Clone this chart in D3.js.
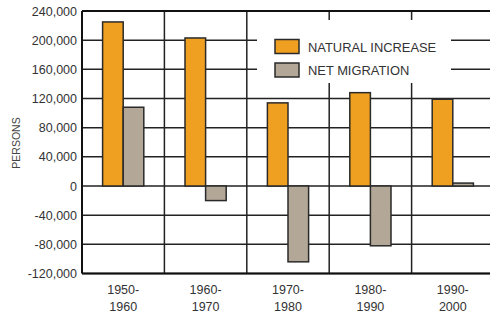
<!DOCTYPE html>
<html lang="en">
<head>
<meta charset="UTF-8">
<title>Natural increase and net migration</title>
<script src="https://d3js.org/d3.v7.min.js"></script>
<style>
    body { margin: 0; background: #fff; }
    text { font-family: "Liberation Sans", Arial, sans-serif; }
</style>
</head>
<body>
<div id="chart"></div>
<script>
    const decades = ["1950-1960", "1960-1970", "1970-1980", "1980-1990", "1990-2000"];
    const naturalIncrease = [225000, 203000, 114000, 128000, 119000];
    const netMigration = [108000, -20000, -104000, -82000, 4000];
    const yTicks = [-120000, -80000, -40000, 0, 40000, 80000, 120000, 160000, 200000, 240000];

    const width = 490, height = 314;
    const plotLeft = 82, plotRight = 494, plotTop = 11, plotBottom = 273.5;

    const svg = d3.select("#chart").append("svg")
        .attr("width", width)
        .attr("height", height);

    const x = d3.scaleBand()
        .domain(decades)
        .range([plotLeft, plotRight])
        .padding(0);

    const y = d3.scaleLinear()
        .domain([-120000, 240000])
        .range([plotBottom, plotTop]);

    // grid
    svg.append("g")
        .selectAll("line")
        .data(yTicks)
        .enter().append("line")
        .attr("x1", plotLeft).attr("x2", plotRight)
        .attr("y1", d => y(d)).attr("y2", d => y(d))
        .attr("stroke", "#222")
        .attr("stroke-width", 1.5);

    svg.append("g")
        .selectAll("line")
        .data(decades.slice(1))
        .enter().append("line")
        .attr("x1", d => x(d)).attr("x2", d => x(d))
        .attr("y1", plotTop).attr("y2", plotBottom)
        .attr("stroke", "#222")
        .attr("stroke-width", 1.5);

    // legend box covers the grid
    const legend = svg.append("g");
    legend.append("rect")
        .attr("x", 257).attr("y", 20)
        .attr("width", 194).attr("height", 63)
        .attr("fill", "#fff");
    const legendItems = [["NATURAL INCREASE", "#f0a020"], ["NET MIGRATION", "#b3a797"]];
    legendItems.forEach((item, i) => {
        legend.append("rect")
            .attr("x", 275).attr("y", 39.5 + i * 23.5)
            .attr("width", 24).attr("height", 14)
            .attr("fill", item[1])
            .attr("stroke", "#2a2a2a")
            .attr("stroke-width", 1.5);
        legend.append("text")
            .attr("x", 308).attr("y", 51.5 + i * 23.5)
            .attr("font-size", "12.9px")
            .attr("fill", "#333")
            .text(item[0]);
    });

    const bw = x.bandwidth() / 4;

    // bars
    svg.append("g")
        .selectAll("rect")
        .data(decades)
        .enter().append("rect")
        .attr("x", (d, i) => x(d) + x.bandwidth() / 2 - bw)
        .attr("y", (d, i) => y(Math.max(0, naturalIncrease[i])))
        .attr("width", bw)
        .attr("height", (d, i) => Math.abs(y(naturalIncrease[i]) - y(0)))
        .attr("fill", "#f0a020")
        .attr("stroke", "#2a2a2a")
        .attr("stroke-width", 1.5);

    svg.append("g")
        .selectAll("rect")
        .data(decades)
        .enter().append("rect")
        .attr("x", (d, i) => x(d) + x.bandwidth() / 2)
        .attr("y", (d, i) => y(Math.max(0, netMigration[i])))
        .attr("width", bw)
        .attr("height", (d, i) => Math.abs(y(netMigration[i]) - y(0)))
        .attr("fill", "#b3a797")
        .attr("stroke", "#2a2a2a")
        .attr("stroke-width", 1.5);

    // frame
    svg.append("line")
        .attr("x1", plotLeft).attr("x2", plotLeft)
        .attr("y1", plotTop).attr("y2", plotBottom)
        .attr("stroke", "#111").attr("stroke-width", 2);
    svg.append("line")
        .attr("x1", plotLeft).attr("x2", plotRight)
        .attr("y1", plotBottom).attr("y2", plotBottom)
        .attr("stroke", "#111").attr("stroke-width", 2);
    svg.append("line")
        .attr("x1", plotLeft).attr("x2", plotRight)
        .attr("y1", plotTop).attr("y2", plotTop)
        .attr("stroke", "#111").attr("stroke-width", 2);

    // y tick labels
    svg.append("g")
        .selectAll("text")
        .data(yTicks)
        .enter().append("text")
        .attr("x", 77)
        .attr("y", d => y(d) + 4.5)
        .attr("text-anchor", "end")
        .attr("font-size", "12.5px")
        .attr("fill", "#333")
        .text(d => d3.format(",")(d).replace("−", "-"));

    // x labels
    const xl = svg.append("g")
        .selectAll("text")
        .data(decades)
        .enter().append("text")
        .attr("text-anchor", "middle")
        .attr("font-size", "12.5px")
        .attr("fill", "#333");
    xl.append("tspan")
        .attr("x", d => x(d) + x.bandwidth() / 2)
        .attr("y", 294)
        .text(d => d.split("-")[0] + "-");
    xl.append("tspan")
        .attr("x", d => x(d) + x.bandwidth() / 2)
        .attr("y", 311)
        .text(d => d.split("-")[1]);

    svg.append("text")
        .attr("transform", "translate(20, 143) rotate(-90)")
        .attr("text-anchor", "middle")
        .attr("font-size", "10.5px")
        .attr("fill", "#444")
        .text("PERSONS");
</script>
</body>
</html>
